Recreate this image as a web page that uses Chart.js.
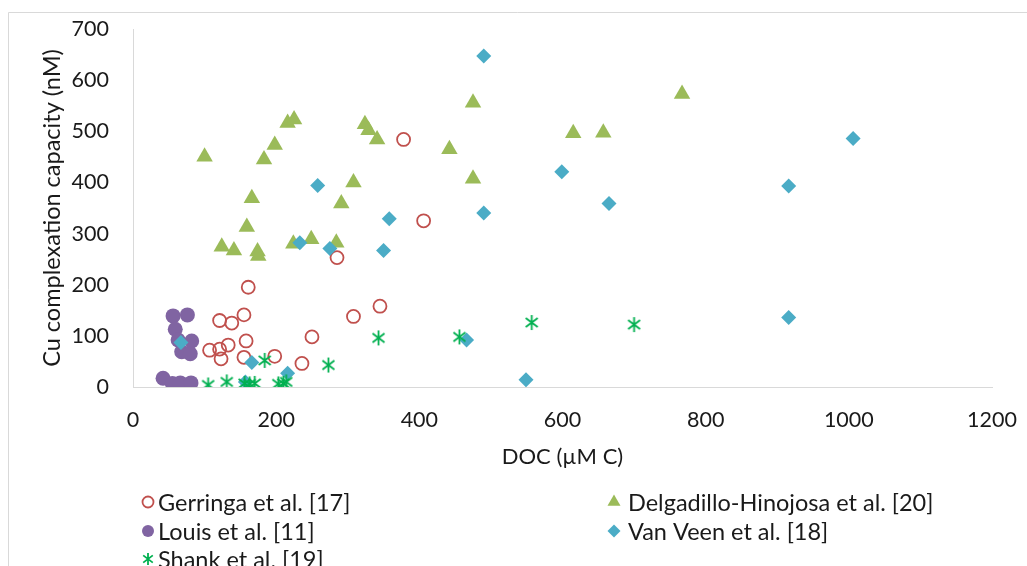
<!DOCTYPE html>
<html>
<head>
<meta charset="utf-8">
<script src="https://cdn.jsdelivr.net/npm/chart.js@4/dist/chart.umd.min.js"></script>
<style>
  html, body { margin: 0; padding: 0; background: #fff; }
  #wrap { width: 1027px; height: 566px; position: relative; }
</style>
</head>
<body>
<div id="wrap"><canvas id="cuChart"></canvas></div>
<script>
// axes
const xTicks = [0, 200, 400, 600, 800, 1000, 1200];
const yTicks = [0, 100, 200, 300, 400, 500, 600, 700];
const xTitle = 'DOC (µM C)';
const yTitle = 'Cu complexation capacity (nM)';

// Gerringa et al. [17]
const gerringaX = [161, 121, 138, 155, 158, 107, 121, 133, 123, 155, 198, 250, 236, 308, 345, 285, 378, 406];
const gerringaY = [195, 130, 125, 141, 90, 72, 74, 82, 55, 58, 60, 98, 46, 138, 158, 253, 484, 325];

// Louis et al. [11]
const louisX = [42, 55, 66, 81, 56, 76, 59, 63, 82, 68, 80];
const louisY = [17, 7, 8, 8, 139, 141, 113, 92, 90, 69, 65];

// Shank et al. [19]
const shankX = [105, 131, 156, 163, 170, 184, 203, 210, 214, 273, 343, 456, 557, 700];
const shankY = [4, 10, 7, 6, 7, 52, 6, 7, 10, 43, 96, 98, 126, 122];

// Delgadillo-Hinojosa et al. [20]
const delgX = [100, 216, 225, 198, 183, 166, 159, 124, 141, 174, 175, 224, 324, 329, 341, 308, 291, 249, 284, 475, 442, 475, 615, 657, 767];
const delgY = [450, 516, 523, 473, 445, 369, 313, 274, 267, 265, 256, 280, 514, 502, 484, 400, 359, 289, 282, 556, 465, 407, 496, 497, 573];

// Van Veen et al. [18]
const veenX = [490, 599, 665, 916, 1006, 916, 490, 466, 549, 258, 358, 233, 275, 350, 216, 67, 166, 157];
const veenY = [647, 421, 359, 393, 486, 136, 340, 92, 14, 394, 329, 282, 271, 267, 27, 87, 48, 10];

function pts(xs, ys) {
  return xs.map((x, i) => ({ x: x, y: ys[i] }));
}

// asterisk marker (vertical bar + X)
function asterisk(size, color) {
  const c = document.createElement('canvas');
  c.width = size; c.height = size;
  const g = c.getContext('2d');
  const m = size / 2, r = size / 2 - 1;
  g.strokeStyle = color;
  g.lineWidth = 1.8;
  g.beginPath();
  g.moveTo(m, m - r); g.lineTo(m, m + r);
  const d = r * 0.8;
  g.moveTo(m - d, m - d * 0.75); g.lineTo(m + d, m + d * 0.75);
  g.moveTo(m + d, m - d * 0.75); g.lineTo(m - d, m + d * 0.75);
  g.stroke();
  return c;
}
const starBig = asterisk(17, '#00b050');
const starSmall = asterisk(14, '#00b050');

const FONT = 'Lato';
const TEXT = '#1a1a1a';

const datasets = [
  { label: 'Gerringa et al. [17]', data: pts(gerringaX, gerringaY), pointStyle: 'circle', pointRadius: 6.5,
    borderColor: '#c0504d', backgroundColor: 'rgba(255,255,255,0)', borderWidth: 1.8, order: 5,
    legendStyle: 'circle', legendRadius: 5.5 },
  { label: 'Delgadillo-Hinojosa et al. [20]', data: pts(delgX, delgY), pointStyle: 'triangle', pointRadius: 9.5,
    borderColor: '#9bbb59', backgroundColor: '#9bbb59', borderWidth: 0, order: 4,
    legendStyle: 'triangle', legendRadius: 7.5 },
  { label: 'Louis et al. [11]', data: pts(louisX, louisY), pointStyle: 'circle', pointRadius: 7.5,
    borderColor: '#8064a2', backgroundColor: '#8064a2', borderWidth: 0, order: 3,
    legendStyle: 'circle', legendRadius: 6 },
  { label: 'Van Veen et al. [18]', data: pts(veenX, veenY), pointStyle: 'rectRot', pointRadius: 7.5,
    borderColor: '#4bacc6', backgroundColor: '#4bacc6', borderWidth: 0, order: 2,
    legendStyle: 'rectRot', legendRadius: 6.5 },
  { label: 'Shank et al. [19]', data: pts(shankX, shankY), pointStyle: starBig, pointRadius: 8,
    borderColor: '#00b050', backgroundColor: '#00b050', borderWidth: 0, order: 1,
    legendStyle: starSmall, legendRadius: 6 }
];
datasets.forEach(d => { d.showLine = false; d.pointHoverRadius = d.pointRadius; d.pointBorderWidth = d.borderWidth; });

// frame, axis titles and the two-column legend
const extras = {
  id: 'extras',
  beforeDraw(chart) {
    const ctx = chart.ctx;
    ctx.save();
    ctx.fillStyle = '#fff';
    ctx.fillRect(0, 0, chart.width, chart.height);
    ctx.strokeStyle = '#d9d9d9';
    ctx.lineWidth = 1;
    ctx.beginPath();
    ctx.moveTo(8.5, chart.height); ctx.lineTo(8.5, 12.5); ctx.lineTo(chart.width, 12.5);
    ctx.stroke();
    ctx.restore();
  },
  afterDraw(chart) {
    const ctx = chart.ctx;
    const a = chart.chartArea;
    ctx.save();
    ctx.fillStyle = TEXT;
    ctx.textAlign = 'center';
    ctx.textBaseline = 'middle';
    ctx.font = '22px ' + FONT;
    ctx.fillText(xTitle, (a.left + a.right) / 2, a.bottom + 70);
    ctx.save();
    ctx.translate(52, (a.top + a.bottom) / 2);
    ctx.rotate(-Math.PI / 2);
    ctx.font = '23.5px ' + FONT;
    ctx.fillText(yTitle, 0, 0);
    ctx.restore();

    const markX = [148, 614], textX = [158, 628], rowY = [502, 531, 559];
    ctx.font = '23.5px ' + FONT;
    ctx.textAlign = 'left';
    chart.data.datasets.forEach((d, i) => {
      const col = i % 2, row = Math.floor(i / 2);
      ctx.fillStyle = d.backgroundColor;
      ctx.strokeStyle = d.borderColor;
      ctx.lineWidth = d.borderWidth;
      Chart.helpers.drawPoint(ctx, { pointStyle: d.legendStyle, radius: d.legendRadius, borderWidth: d.borderWidth, rotation: 0 },
        markX[col], rowY[row]);
      ctx.fillStyle = TEXT;
      ctx.fillText(d.label, textX[col], rowY[row] + 1);
    });
    ctx.restore();
  }
};

new Chart(document.getElementById('cuChart'), {
  type: 'scatter',
  data: { datasets: datasets },
  plugins: [extras],
  options: {
    responsive: true,
    maintainAspectRatio: false,
    animation: false,
    events: [],
    layout: { padding: { top: 29, right: 35, bottom: 96, left: 0 } },
    plugins: { legend: { display: false }, tooltip: { enabled: false } },
    scales: {
      x: {
        type: 'linear', min: 0, max: 1200,
        afterBuildTicks: s => { s.ticks = xTicks.map(v => ({ value: v })); },
        afterFit: s => { s.height = 83; s.paddingLeft = 0; s.paddingRight = 0; },
        grid: { display: false, drawTicks: false },
        border: { display: true, color: '#d9d9d9', width: 1 },
        ticks: { padding: 20, color: TEXT, font: { family: FONT, size: 21.5 }, maxRotation: 0,
          callback: v => String(v) }
      },
      y: {
        type: 'linear', min: 0, max: 700,
        afterBuildTicks: s => { s.ticks = yTicks.map(v => ({ value: v })); },
        afterFit: s => { s.width = 133; s.paddingTop = 0; s.paddingBottom = 0; },
        grid: { display: false, drawTicks: false },
        border: { display: true, color: '#d9d9d9', width: 1 },
        ticks: { padding: 24, color: TEXT, font: { family: FONT, size: 21.5 }, callback: v => String(v) }
      }
    }
  }
});
</script>
</body>
</html>
